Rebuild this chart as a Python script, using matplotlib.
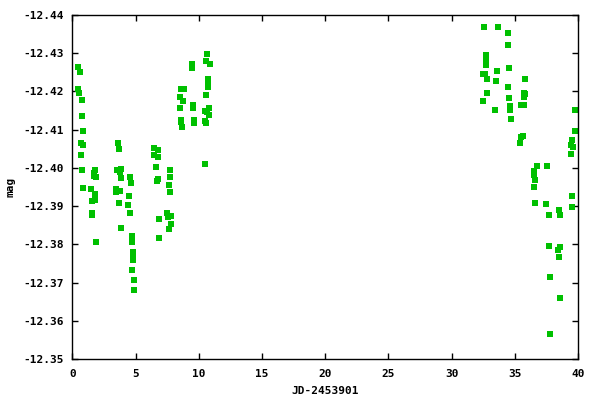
#!/usr/bin/env python3
"""Curva de luz: magnitud frente a JD-2453901 (estilo gnuplot)."""

import matplotlib
matplotlib.use("Agg")
import matplotlib.pyplot as plt
from matplotlib.ticker import MultipleLocator, FormatStrFormatter

# Datos (día relativo, magnitud)
jd = [
    0.46, 0.62, 0.46, 0.54, 0.78, 0.78, 0.85, 0.70, 0.85, 0.70, 0.78, 0.85,
    1.80, 1.72, 1.72, 1.88, 1.49, 1.80, 1.80, 1.57, 1.57, 1.57, 1.88,
    3.62, 3.70, 3.54, 3.86, 3.78, 3.86, 3.47, 3.47, 3.78, 3.70, 3.86,
    4.57, 4.65, 4.49, 4.41, 4.57, 4.73, 4.73, 4.81, 4.81, 4.81, 4.73, 4.89, 4.89,
    6.47, 6.79, 6.47, 6.79, 6.63, 6.79, 6.71, 6.87, 6.87,
    7.74, 7.74, 7.66, 7.74, 7.50, 7.82, 7.58, 7.82, 7.66,
    8.61, 8.85, 8.53, 8.73, 8.53, 8.61, 8.61, 8.69,
    9.48, 9.48, 9.56, 9.56, 9.64, 9.64,
    10.66, 10.59, 10.90, 10.74, 10.74, 10.74, 10.59, 10.82, 10.51, 10.66,
    10.82, 10.51, 10.59, 10.51,
    32.58, 33.69, 32.74, 32.74, 32.74, 33.61, 32.50, 32.66, 32.82, 33.53,
    32.82, 32.50, 33.45,
    34.48, 34.48, 34.56, 34.48, 34.56, 34.64, 34.64, 34.72,
    35.82, 35.74, 35.82, 35.74, 35.51, 35.74, 35.51, 35.66, 35.43,
    36.77, 37.56, 36.53, 36.53, 36.61, 36.53, 36.61, 37.48, 37.72, 37.72,
    37.80, 37.80,
    38.51, 38.59, 38.59, 38.43, 38.51, 38.59,
    39.78, 39.78, 39.54, 39.46, 39.62, 39.46, 39.54, 39.54,
]
mag = [
    -12.4263, -12.4250, -12.4206, -12.4195, -12.4177, -12.4135, -12.4096,
    -12.4064, -12.4059, -12.4033, -12.3994, -12.3947,
    -12.3994, -12.3986, -12.3978, -12.3975, -12.3944, -12.3931, -12.3915,
    -12.3913, -12.3881, -12.3876, -12.3805,
    -12.4064, -12.4049, -12.3994, -12.3996, -12.3988, -12.3973, -12.3944,
    -12.3936, -12.3939, -12.3907, -12.3842,
    -12.3975, -12.3960, -12.3926, -12.3902, -12.3881, -12.3821, -12.3805,
    -12.3780, -12.3769, -12.3759, -12.3732, -12.3706, -12.3680,
    -12.4051, -12.4046, -12.4033, -12.4028, -12.4002, -12.3970, -12.3965,
    -12.3865, -12.3816,
    -12.3994, -12.3975, -12.3956, -12.3936, -12.3881, -12.3873, -12.3871,
    -12.3852, -12.3839,
    -12.4206, -12.4206, -12.4185, -12.4174, -12.4156, -12.4124, -12.4119,
    -12.4106,
    -12.4271, -12.4261, -12.4164, -12.4156, -12.4124, -12.4117,
    -12.4297, -12.4279, -12.4271, -12.4232, -12.4222, -12.4212, -12.4190,
    -12.4156, -12.4148, -12.4145, -12.4138, -12.4122, -12.4117, -12.4009,
    -12.4368, -12.4368, -12.4295, -12.4279, -12.4268, -12.4253, -12.4245,
    -12.4245, -12.4232, -12.4227, -12.4195, -12.4174, -12.4151,
    -12.4352, -12.4321, -12.4261, -12.4211, -12.4182, -12.4161, -12.4151,
    -12.4127,
    -12.4232, -12.4195, -12.4193, -12.4185, -12.4164, -12.4164, -12.4080,
    -12.4083, -12.4064,
    -12.4004, -12.4004, -12.3991, -12.3981, -12.3968, -12.3949, -12.3907,
    -12.3905, -12.3876, -12.3796, -12.3714, -12.3565,
    -12.3889, -12.3876, -12.3792, -12.3784, -12.3766, -12.3659,
    -12.4151, -12.4096, -12.4072, -12.4059, -12.4054, -12.4036, -12.3926,
    -12.3897,
]

X_RANGE = (0, 40)
Y_RANGE = (-12.35, -12.44)  # eje invertido (magnitudes)
COLOR = "#00c000"
FONT = {"family": "DejaVu Sans Mono", "weight": "bold", "size": 8}


def main():
    fig = plt.figure(figsize=(6, 4), dpi=100)
    ax = fig.add_axes([0.1208, 0.1025, 0.8425, 0.86])

    ax.plot(jd, mag, linestyle="none", marker="s", markersize=4.3,
            markeredgewidth=0, color=COLOR)

    ax.set_xlim(*X_RANGE)
    ax.set_ylim(*Y_RANGE)
    ax.xaxis.set_major_locator(MultipleLocator(5))
    ax.yaxis.set_major_locator(MultipleLocator(0.01))
    ax.yaxis.set_major_formatter(FormatStrFormatter("%.2f"))

    ax.tick_params(direction="in", length=4.3, width=1, top=True, right=True,
                   colors="black")
    ax.tick_params(axis="y", pad=6)
    ax.tick_params(axis="x", pad=7)
    for lab in ax.get_xticklabels() + ax.get_yticklabels():
        lab.set_fontfamily(FONT["family"])
        lab.set_fontweight(FONT["weight"])
        lab.set_fontsize(FONT["size"])
    for sp in ax.spines.values():
        sp.set_linewidth(1)

    ax.set_xlabel("JD-2453901", fontdict=FONT)
    ax.set_ylabel("mag", fontdict=FONT)
    ax.xaxis.set_label_coords(0.5, -0.078)
    ax.yaxis.set_label_coords(-0.112, 0.5)

    fig.savefig("out.png", dpi=100)
    plt.close(fig)


if __name__ == "__main__":
    main()
